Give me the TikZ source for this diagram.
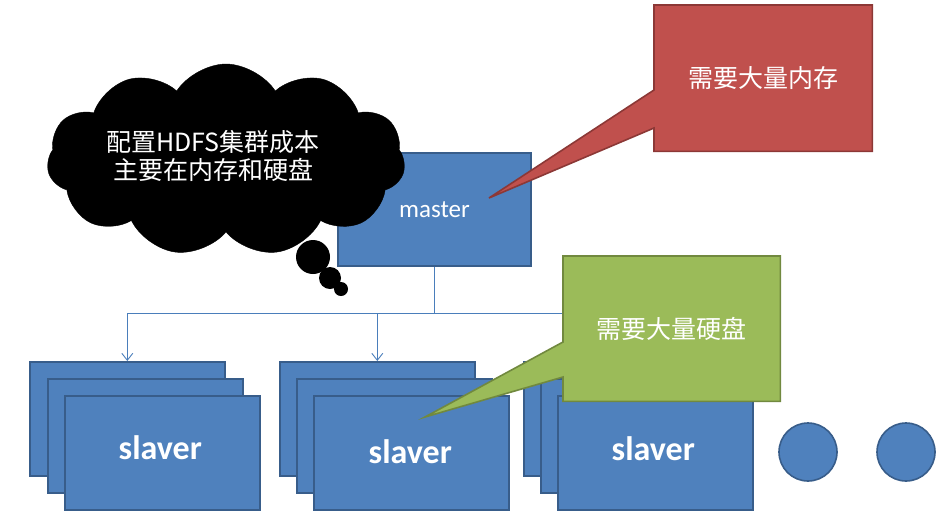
\documentclass[tikz,border=0pt]{standalone}
\usepackage{fontspec}
\setmainfont{Carlito}
\newfontfamily\cjk{Noto Sans CJK SC}
\usetikzlibrary{shapes.symbols,arrows.meta,calc}
\definecolor{boxblue}{HTML}{4F81BD}
\definecolor{boxblueline}{HTML}{385D8A}
\definecolor{calred}{HTML}{C0504D}
\definecolor{calredline}{HTML}{8C3836}
\definecolor{calgreen}{HTML}{9BBB59}
\definecolor{calgreenline}{HTML}{71893F}
\definecolor{connblue}{HTML}{4A7EBB}
\begin{document}
\begin{tikzpicture}[x=1pt,y=-1pt,
  bluebox/.style={draw=boxblueline,fill=boxblue,line width=1.6pt,minimum width=195pt,minimum height=114pt,inner sep=0pt,anchor=north west},
  slavertext/.style={text=white,font=\bfseries\fontsize{34}{40}\selectfont},
  conn/.style={draw=connblue,line width=0.9pt,-{Straight Barb[length=7pt,width=11pt]}},
  callbox/.style={minimum width=218pt,minimum height=146pt,inner sep=0pt,anchor=north west},
  calltext/.style={text=white,font=\cjk\fontsize{25}{30}\selectfont},
  bubble/.style={circle,fill=black,inner sep=0pt},
  dotc/.style={circle,draw=boxblueline,fill=boxblue,line width=1.6pt,minimum size=58pt,inner sep=0pt}]
\useasboundingbox (0,0) rectangle (947,515);
% master
\node[bluebox,minimum width=193pt,minimum height=113pt,text=white,font=\fontsize{25}{30}\selectfont,anchor=center] (master) at (434.5,209.5) {master};
% cloud
\node[cloud,cloud puffs=11,cloud puff arc=115,aspect=1.8,fill=black,draw=black,minimum width=358pt,minimum height=192pt,inner sep=0pt] (cloud) at (226,160) {};
\node[text=white,font=\cjk\fontsize{25}{28}\selectfont,align=center] (cloudtext) at (213,156) {配置HDFS集群成本\\主要在内存和硬盘};
\node[bubble,minimum size=34pt] (bub1) at (313,257) {};
\node[bubble,minimum size=22pt] (bub2) at (330,278) {};
\node[bubble,minimum size=14pt] (bub3) at (341,289) {};
% slaver stacks
\node[bluebox] (s1a) at (29,361) {};
\node[bluebox] (s1b) at (47,378) {};
\node[bluebox] (s1c) at (64,395) {};
\node[slavertext] (t1) at ($(s1c.center)+(-2,-5)$) {slaver};
\node[bluebox] (s2a) at (279,361) {};
\node[bluebox] (s2b) at (296,378) {};
\node[bluebox] (s2c) at (313,395) {};
\node[slavertext] (t2) at ($(s2c.center)+(-1,-1)$) {slaver};
\node[bluebox] (s3a) at (523,361) {};
\node[bluebox] (s3b) at (540,378) {};
\node[bluebox] (s3c) at (557,395) {};
\node[slavertext] (t3) at ($(s3c.center)+(-2,-4)$) {slaver};
% connectors
\coordinate (split) at ($(master.south)+(0,47)$);
\draw[conn] (master.south) -- (split) -| (s1a.north);
\draw[conn] (split) -| (s2a.north);
\draw[conn] (split) -| (s3a.north);
% dots
\node[dotc] (dot1) at (808,452) {};
\node[dotc] (dot2) at (906,452) {};
% red callout
\node[callbox] (redbox) at (654,5) {};
\coordinate (redtip) at (489,198);
\draw[fill=calred,draw=calredline,line width=1.6pt,line join=miter]
  (redbox.north west) -- (redbox.north east) -- (redbox.south east) -- (redbox.south west)
  -- ($(redbox.north west)+(0,123)$) -- (redtip) -- ($(redbox.north west)+(0,85)$) -- cycle;
\node[calltext] (redtext) at (redbox.center) {需要大量内存};
% green callout
\node[callbox,minimum width=217pt,minimum height=145pt] (greenbox) at (563,256) {};
\coordinate (greentip) at (425,417);
\draw[fill=calgreen,draw=calgreenline,line width=1.6pt,line join=miter]
  (greenbox.north west) -- (greenbox.north east) -- (greenbox.south east) -- (greenbox.south west)
  -- ($(greenbox.north west)+(0,121)$) -- (greentip) -- ($(greenbox.north west)+(0,86)$) -- cycle;
\node[calltext] (greentext) at (greenbox.center) {需要大量硬盘};
\end{tikzpicture}
\end{document}
